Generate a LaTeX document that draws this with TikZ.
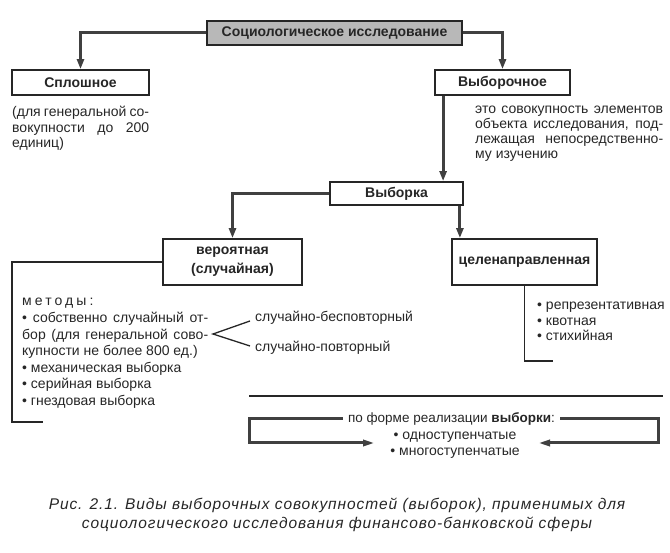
\documentclass[tikz,border=0pt]{standalone}
\usepackage{fontspec}
\setmainfont{Liberation Sans}
\newfontfamily\spacedfont[LetterSpace=22]{Liberation Sans}
\newfontfamily\capfont[LetterSpace=6]{Liberation Sans}
\usetikzlibrary{arrows.meta,calc}
\definecolor{ink}{gray}{0.15}
\tikzset{
  box/.style={draw=ink, line width=1.8pt, fill=white, inner sep=0pt, align=center,
    font=\fontsize{14}{19}\selectfont\bfseries, text=ink},
  topbox/.style={box, fill=black!28},
  conn/.style={draw=black!75, line width=3pt},
  arr/.style={conn, -{Triangle[length=10pt,width=7pt]}},
  brk/.style={draw=ink, line width=1.3pt},
  txt/.style={inner sep=0pt, anchor=base west, text=ink, font=\fontsize{14}{16}\selectfont},
  ctxt/.style={txt, anchor=base},
  captxt/.style={inner sep=0pt, anchor=base, text=ink, font=\fontsize{15.5}{19}\selectfont\capfont\itshape},
}
\begin{document}
\begin{tikzpicture}[x=1pt,y=-1pt]
\useasboundingbox (0,0) rectangle (670,553);
% boxes
\node[topbox, minimum width=255pt, minimum height=24pt] (top) at (334.5,33) {Социологическое исследование};
\node[box, minimum width=137pt, minimum height=25pt] (splosh) at (80.5,82.5) {Сплошное};
\node[box, minimum width=135pt, minimum height=25pt] (vybor) at (502.5,82.5) {Выборочное};
\node[box, minimum width=133pt, minimum height=23pt] (vyborka) at (396.5,193.5) {Выборка};
\node[box, minimum width=139pt, minimum height=46pt] (veroyat) at (232.5,262) {вероятная\\(случайная)};
\node[box, minimum width=145pt, minimum height=46pt] (celen) at (524.5,262) {целенаправленная};
% connectors
\draw[arr] (top.west) -| (splosh.north);
\draw[arr] (top.east) -| (vybor.north);
\coordinate (a1) at ($(vybor.south west)+(9,0)$);
\draw[arr] (a1) -- (a1 |- vyborka.north);
\draw[arr] (vyborka.west) -| (veroyat.north);
\coordinate (b1) at ($(vyborka.south east)+(-4,0)$);
\draw[arr] (b1) -- (b1 |- celen.north);
% notes
\node[txt] (n1) at (12,117) {\makebox[137pt][s]{(для генеральной со-}};
\node[txt] (n2) at (12,132.5) {\makebox[137pt][s]{вокупности до 200}};
\node[txt] (n3) at (12,148) {единиц)};
\node[txt] (r1) at (475,114) {\makebox[188pt][s]{это совокупность элементов}};
\node[txt] (r2) at (475,129) {\makebox[188pt][s]{объекта исследования, под-}};
\node[txt] (r3) at (475,144) {\makebox[188pt][s]{лежащая непосредственно-}};
\node[txt] (r4) at (475,159) {му изучению};
% left bracket
\coordinate (lb1) at (12,262);
\coordinate (lb2) at (12,422);
\coordinate (lb3) at (43,422);
\draw[brk] (veroyat.west) -- (lb1) -- (lb2) -- (lb3);
\node[txt] (m0) at (22,306) {{\spacedfont методы:}};
\node[txt] (m1) at (22,322.6) {\makebox[186pt][s]{• собственно случайный от-}};
\node[txt] (m2) at (22,339.2) {\makebox[186pt][s]{бор (для генеральной сово-}};
\node[txt] (m3) at (22,355.8) {купности не более 800 ед.)};
\node[txt] (m4) at (22,372.4) {• механическая выборка};
\node[txt] (m5) at (22,389) {• серийная выборка};
\node[txt] (m6) at (22,405.6) {• гнездовая выборка};
% angle
\coordinate (tip) at (213,334);
\coordinate (up) at (250,321);
\coordinate (dn) at (250,346);
\draw[brk] (up) -- (tip) -- (dn);
\node[txt] (s1) at (255,322) {случайно-бесповторный};
\node[txt] (s2) at (255,352) {случайно-повторный};
% right bracket
\coordinate (rb1) at (celen.south);
\coordinate (rb2) at (524.5,361);
\coordinate (rb3) at (553,361);
\draw[brk] (rb1) -- (rb2) -- (rb3);
\node[txt] (c1) at (537,310) {• репрезентативная};
\node[txt] (c2) at (537,325.5) {• квотная};
\node[txt] (c3) at (537,341) {• стихийная};
% separator
\coordinate (h1) at (249,396);
\coordinate (h2) at (663,396);
\draw[draw=ink, line width=2pt] (h1) -- (h2);
% bottom bracket
\node[inner sep=5pt, text=ink, font=\fontsize{13.5}{16}\selectfont] (form) at (451.5,419) {по форме реализации \textbf{выборки}:};
\coordinate (f1) at (249,419);
\coordinate (f2) at (249,443);
\coordinate (f3) at (375,443);
\coordinate (g1) at (658,419);
\coordinate (g2) at (658,443);
\coordinate (g3) at (538,443);
\draw[conn, -{Triangle[length=12pt,width=6pt]}] (form.west) -- (f1) -- (f2) -- (f3);
\draw[conn, -{Triangle[length=12pt,width=6pt]}] (form.east) -- (g1) -- (g2) -- (g3);
\node[ctxt] (o1) at (455,439) {• одноступенчатые};
\node[ctxt] (o2) at (455,456) {• многоступенчатые};
% caption
\node[captxt] (cap1) at (337,510) {Рис. 2.1. Виды выборочных совокупностей (выборок), применимых для};
\node[captxt] (cap2) at (337,529) {социологического исследования финансово-банковской сферы};
\end{tikzpicture}
\end{document}
